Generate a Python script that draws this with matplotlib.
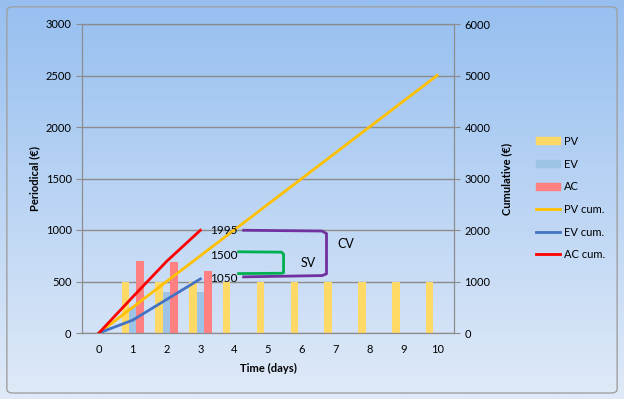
import numpy as np
import matplotlib.pyplot as plt
from matplotlib.patches import FancyBboxPatch, Patch
from matplotlib.lines import Line2D

plt.rcParams['font.family'] = ['Lato', 'DejaVu Sans']

days = np.arange(0, 11)
pv = [500] * 10            # periodical planned value, days 1..10
ev = [250, 400, 400]        # earned value, days 1..3
ac = [700, 690, 605]        # actual cost, days 1..3
pv_cum = np.concatenate([[0], np.cumsum(pv)])
ev_cum = np.concatenate([[0], np.cumsum(ev)])
ac_cum = np.concatenate([[0], np.cumsum(ac)])

marks = [1995, 1500, 1050]

fig = plt.figure(figsize=(6.24, 3.99), dpi=100)

# gradient background
bg = fig.add_axes([0, 0, 1, 1], zorder=-10)
grad = np.linspace(0, 1, 256).reshape(-1, 1)
top = np.array([150, 191, 240]) / 255
bot = np.array([224, 234, 248]) / 255
img = top + (bot - top) * grad[:, :, None]
bg.imshow(img, aspect='auto', extent=[0, 1, 0, 1])
bg.axis('off')
fig.patches.append(FancyBboxPatch((0.011, 0.015), 0.978, 0.968, boxstyle='round,pad=0,rounding_size=0.01',
                                  transform=fig.transFigure, fill=False, ec='#a0a0a0', lw=1))

ax = fig.add_axes([82 / 624, 1 - 333 / 399, 372 / 624, 309 / 399])
ax.patch.set_alpha(0)
ax2 = ax.twinx()

w = 0.22
ax.bar(days[1:] - w, pv, width=w, color='#ffd966', zorder=2)
ax.bar(days[1:4], ev, width=w, color='#9dc3e6', zorder=2)
ax.bar(days[1:4] + w, ac, width=w, color='#ff8080', zorder=2)

ax2.plot(days, pv_cum, color='#ffc000', lw=2)
ax2.plot(days[:4], ev_cum, color='#4472c4', lw=2)
ax2.plot(days[:4], ac_cum, color='#ff0000', lw=2)

ax.set_xlim(-0.5, 10.5)
ax.set_ylim(0, 3000)
ax2.set_ylim(0, 6000)
ax.set_yticks(np.arange(0, 3001, 500))
ax2.set_yticks(np.arange(0, 6001, 1000))
ax.set_xticks(days)
ax.yaxis.grid(True, color='#8c8c8c', lw=1)
ax.set_axisbelow(True)
for a in (ax, ax2):
    for s in a.spines.values():
        s.set_color('#8c8c8c')
    a.tick_params(labelsize=8, colors='#8c8c8c', labelcolor='black', length=4)
ax.tick_params(axis='x', length=0, pad=8)

ax.set_xlabel('Time (days)', fontsize=8, fontweight='bold', labelpad=6)
ax.set_ylabel('Periodical (€)', fontsize=8, fontweight='bold', labelpad=4)
ax2.set_ylabel('Cumulative (€)', fontsize=8, fontweight='bold', labelpad=8)

# annotations
for v in marks:
    ax2.text(3.3, v, str(v), fontsize=8.5, va='center', ha='left')
ax2.plot([4.28, 6.6, 6.73, 6.73, 6.6, 4.28], [1995, 1980, 1930, 1150, 1115, 1090], color='#7030a0', lw=2)
ax2.plot([4.13, 5.4, 5.46, 5.46, 5.4, 4.13], [1577, 1570, 1530, 1170, 1160, 1154], color='#00b050', lw=2)
ax2.text(7.05, 1730, 'CV', fontsize=9, ha='left', va='center')
ax2.text(5.95, 1365, 'SV', fontsize=9, ha='left', va='center')

handles = [Patch(color='#ffd966'), Patch(color='#9dc3e6'), Patch(color='#ff8080'),
           Line2D([], [], color='#ffc000', lw=2), Line2D([], [], color='#4472c4', lw=2),
           Line2D([], [], color='#ff0000', lw=2)]
labels = ['PV', 'EV', 'AC', 'PV cum.', 'EV cum.', 'AC cum.']
fig.legend(handles, labels, loc='center left', bbox_to_anchor=(526 / 624, 1 - 198 / 399), frameon=False,
           fontsize=8, handlelength=2.2, handleheight=0.6, labelspacing=1.05, handletextpad=0.3)

fig.savefig('out.png', dpi=100)
